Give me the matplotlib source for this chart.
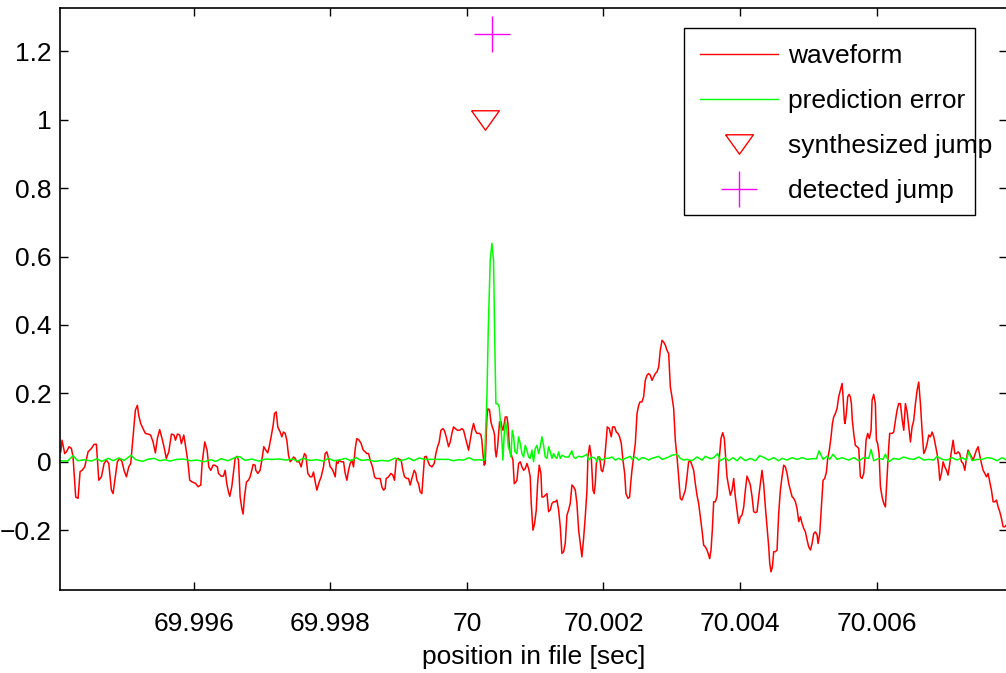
import numpy as np
import matplotlib
matplotlib.use("Agg")
import matplotlib.pyplot as plt
from matplotlib.patches import Rectangle
from matplotlib.lines import Line2D

plt.rcParams["font.family"] = ["Liberation Sans", "DejaVu Sans"]

# time offsets in ms relative to 70 s
wave_t_ms = [
    -5.949, -5.930, -5.891, -5.866, -5.827, -5.793, -5.769, -5.730, -5.695, -5.666,
    -5.637, -5.598, -5.549, -5.500, -5.461, -5.427, -5.392, -5.353, -5.314, -5.280,
    -5.246, -5.207, -5.183, -5.149, -5.120, -5.085, -5.051, -5.022, -4.987, -4.953,
    -4.924, -4.890, -4.856, -4.827, -4.807, -4.778, -4.744, -4.710, -4.671, -4.632,
    -4.597, -4.563, -4.534, -4.500, -4.466, -4.437, -4.403, -4.367, -4.328, -4.289,
    -4.269, -4.240, -4.206, -4.182, -4.147, -4.108, -4.084, -4.060, -4.025, -3.976,
    -3.937, -3.898, -3.879, -3.840, -3.806, -3.781, -3.752, -3.718, -3.694, -3.655,
    -3.639, -3.600, -3.566, -3.541, -3.517, -3.493, -3.473, -3.444, -3.415, -3.395,
    -3.366, -3.346, -3.322, -3.297, -3.278, -3.258, -3.229, -3.200, -3.176, -3.151,
    -3.131, -3.102, -3.092, -3.063, -3.029, -3.004, -2.975, -2.946, -2.917, -2.892,
    -2.868, -2.838, -2.818, -2.794, -2.770, -2.735, -2.711, -2.687, -2.662, -2.638,
    -2.613, -2.589, -2.565, -2.540, -2.516, -2.491, -2.457, -2.428, -2.408, -2.379,
    -2.359, -2.330, -2.296, -2.271, -2.247, -2.222, -2.198, -2.164, -2.135, -2.101,
    -2.076, -2.052, -2.027, -2.003, -1.978, -1.954, -1.930, -1.910, -1.890, -1.871,
    -1.841, -1.807, -1.783, -1.758, -1.734, -1.710, -1.685, -1.661, -1.636, -1.612,
    -1.578, -1.549, -1.519, -1.490, -1.466, -1.441, -1.417, -1.383, -1.353,
    -1.329, -1.295, -1.270, -1.246, -1.222, -1.197, -1.183, -1.148, -1.114, -1.085,
    -1.061, -1.036, -1.012, -0.987, -0.963, -0.938, -0.914, -0.880, -0.856, -0.831,
    -0.807, -0.772, -0.748, -0.733, -0.709, -0.685, -0.660, -0.636, -0.621, -0.596,
    -0.577, -0.548, -0.513, -0.479, -0.455, -0.430, -0.406, -0.381, -0.352, -0.332,
    -0.303, -0.269, -0.245, -0.220, -0.196, -0.171, -0.137, -0.108, -0.074, -0.049,
    -0.025, 0.000, 0.024, 0.048, 0.073, 0.097, 0.122, 0.146, 0.185, 0.205,
    0.219, 0.234, 0.253, 0.268, 0.293, 0.307, 0.332, 0.351, 0.371, 0.390,
    0.405, 0.415, 0.429, 0.449, 0.463, 0.478, 0.498, 0.512, 0.527, 0.547,
    0.561, 0.586, 0.600, 0.625, 0.644, 0.674, 0.693, 0.718, 0.732, 0.757,
    0.781, 0.806, 0.830, 0.854, 0.879, 0.903, 0.927,
    0.942, 0.967, 0.991, 1.015, 1.035, 1.059, 1.084, 1.098, 1.123, 1.147,
    1.172, 1.196, 1.221, 1.245, 1.269, 1.294, 1.318, 1.343, 1.367, 1.391,
    1.416, 1.440, 1.465, 1.489, 1.513, 1.538, 1.562, 1.587, 1.611, 1.636,
    1.660, 1.684, 1.709, 1.733, 1.758, 1.772, 1.797, 1.821, 1.846, 1.865,
    1.880, 1.895, 1.919, 1.943, 1.968, 1.987, 2.012, 2.036, 2.056, 2.085,
    2.114, 2.134, 2.163, 2.188, 2.212, 2.236, 2.261, 2.285, 2.310, 2.329,
    2.359, 2.383, 2.398, 2.417, 2.442, 2.466, 2.491, 2.515, 2.535, 2.563,
    2.588, 2.612, 2.637, 2.661, 2.686, 2.710, 2.735, 2.759, 2.784, 2.808,
    2.832, 2.857, 2.881, 2.906, 2.930, 2.955, 2.979, 3.003, 3.028, 3.052,
    3.077, 3.101, 3.125, 3.150, 3.174, 3.199,
    3.223, 3.247, 3.272, 3.296, 3.321, 3.345, 3.370, 3.394, 3.418, 3.443,
    3.467, 3.492, 3.516, 3.541, 3.555, 3.575, 3.594, 3.614, 3.638, 3.663,
    3.687, 3.702, 3.721, 3.746, 3.770, 3.785, 3.809, 3.834, 3.858, 3.883,
    3.907, 3.931, 3.956, 3.980, 4.005, 4.029, 4.054, 4.078, 4.102, 4.127,
    4.151, 4.176, 4.200, 4.225, 4.249, 4.274, 4.298, 4.322, 4.347, 4.371,
    4.396, 4.420, 4.435, 4.454, 4.474, 4.493, 4.517, 4.542, 4.566, 4.591,
    4.615, 4.640, 4.664, 4.689, 4.713, 4.737, 4.762, 4.786, 4.811, 4.835,
    4.860, 4.884, 4.908, 4.933, 4.957, 4.982, 5.006, 5.031, 5.055, 5.079,
    5.104, 5.128, 5.143, 5.167, 5.191, 5.216, 5.240, 5.265, 5.284, 5.308,
    5.333, 5.353, 5.372, 5.396, 5.421, 5.445, 5.470, 5.495, 5.509, 5.528,
    5.538, 5.557, 5.577, 5.597, 5.616, 5.631, 5.645, 5.665, 5.689, 5.714,
    5.738, 5.763, 5.787, 5.812, 5.831, 5.846, 5.870, 5.894, 5.919, 5.934,
    5.958, 5.982, 5.997, 6.016, 6.036, 6.056, 6.080, 6.105, 6.129, 6.153,
    6.178, 6.192, 6.227, 6.251, 6.276, 6.300, 6.324, 6.349, 6.373, 6.398,
    6.422, 6.447, 6.471, 6.496, 6.520, 6.544, 6.569, 6.593, 6.617, 6.642,
    6.666, 6.691, 6.715, 6.740, 6.764, 6.789, 6.813, 6.838, 6.862, 6.886,
    6.911, 6.925, 6.950, 6.974, 6.999, 7.023, 7.047, 7.072, 7.091, 7.121,
    7.145, 7.169, 7.194, 7.218, 7.243, 7.267, 7.292, 7.316, 7.340, 7.365,
    7.389, 7.414, 7.438, 7.462, 7.487, 7.511, 7.536, 7.560, 7.585, 7.609,
    7.633, 7.658, 7.682, 7.707, 7.731, 7.756, 7.780, 7.804, 7.829, 7.853,
    7.878, 7.902,
]
wave_v = [
    0.029, 0.063, 0.024, 0.029, 0.044, 0.039, 0.014, -0.103, -0.107, -0.029,
    -0.025, -0.015, 0.029, 0.039, 0.051, 0.051, -0.054, -0.044, -0.005, 0.005,
    -0.005, -0.083, -0.093, -0.044, 0.000, 0.010, 0.000, -0.025, -0.044, -0.015,
    -0.005, 0.073, 0.151, 0.165, 0.136, 0.112, 0.097, 0.083, 0.081, 0.078,
    0.058, 0.026, 0.068, 0.094, 0.068, 0.044, 0.010, 0.029, 0.081, 0.078,
    0.063, 0.081, 0.078, 0.053, 0.078, 0.029, -0.005, -0.054, -0.059, -0.063,
    -0.073, -0.068, -0.005, 0.058, 0.034, -0.015, -0.025, -0.010, -0.010, -0.015,
    -0.034, -0.042, -0.042, -0.025, -0.064, -0.088, -0.101, -0.073, -0.025, 0.010,
    0.016, 0.005, -0.102, -0.137, -0.153, -0.102, -0.059, -0.054, -0.044, -0.025,
    -0.008, -0.010, -0.025, -0.034, -0.025, 0.005, 0.044, 0.034, 0.026, 0.048,
    0.073, 0.107, 0.141, 0.146, 0.102, 0.087, 0.073, 0.087, 0.083, 0.063,
    0.019, 0.000, 0.005, 0.014, 0.010, 0.000, 0.000, -0.015, 0.003, 0.024,
    0.019, -0.034, -0.044, -0.044, -0.030, -0.059, -0.083, -0.059, -0.044, -0.015,
    0.024, 0.029, 0.010, -0.015, -0.020, -0.030, -0.044, 0.000, -0.005, 0.005,
    0.000, 0.000, -0.034, -0.054, -0.025, -0.005, 0.005, -0.015, 0.039, 0.068,
    0.063, 0.053, 0.034, 0.029, 0.024, 0.024, 0.005, -0.015, -0.044,
    -0.049, -0.049, -0.049, -0.073, -0.083, -0.078, -0.049, -0.044, -0.034, -0.039,
    -0.054, 0.005, 0.010, 0.007, 0.005, -0.025, -0.044, -0.049, -0.049, -0.068,
    -0.049, -0.025, -0.034, -0.054, -0.064, -0.088, -0.093, -0.025, 0.014, 0.016,
    0.005, -0.010, -0.015, -0.005, 0.024, 0.044, 0.058, 0.092, 0.097, 0.092,
    0.073, 0.044, 0.058, 0.083, 0.102, 0.097, 0.092, 0.092, 0.097, 0.092,
    0.073, 0.053, 0.034, 0.063, 0.092, 0.112, 0.092, 0.083, 0.083, 0.078,
    0.063, 0.024, -0.010, -0.005, 0.131, 0.155, 0.151, 0.117, 0.102, 0.092,
    0.078, 0.034, 0.014, 0.044, 0.078, 0.117, 0.117, 0.102, 0.092, 0.112,
    0.131, 0.131, 0.112, 0.034, 0.024, 0.005, -0.064, -0.059, -0.054, -0.005,
    0.000, -0.015, -0.025, -0.020, -0.005, -0.020, -0.044,
    -0.122, -0.200, -0.181, -0.142, -0.064, -0.010, -0.034, -0.103, -0.103, -0.098,
    -0.093, -0.146, -0.141, -0.122, -0.117, -0.117, -0.112, -0.141, -0.190, -0.268,
    -0.263, -0.239, -0.156, -0.141, -0.122, -0.068, -0.073, -0.083, -0.122, -0.200,
    -0.239, -0.278, -0.224, -0.161, -0.083, 0.014, 0.048, 0.014, -0.083, -0.093,
    -0.064, -0.005, 0.014, 0.014, -0.025, -0.029, -0.005, 0.053, 0.102, 0.097,
    0.073, 0.102, 0.102, 0.087, 0.083, 0.073, 0.053, 0.005, -0.034, -0.093,
    -0.107, -0.103, -0.064, -0.025, 0.014, 0.053, 0.141, 0.165, 0.175, 0.175,
    0.190, 0.238, 0.253, 0.258, 0.253, 0.238, 0.248, 0.258, 0.263, 0.277,
    0.326, 0.355, 0.350, 0.341, 0.326, 0.316, 0.219, 0.190, 0.156, 0.063,
    0.014, -0.044, -0.107, -0.112, -0.098, -0.083,
    -0.044, 0.000, 0.003, -0.010, -0.025, -0.064, -0.098, -0.122, -0.161, -0.200,
    -0.244, -0.249, -0.258, -0.273, -0.283, -0.258, -0.200, -0.117, -0.117, -0.102,
    -0.015, 0.024, 0.068, 0.085, 0.068, 0.024, -0.044, -0.073, -0.098, -0.083,
    -0.049, -0.102, -0.141, -0.180, -0.161, -0.156, -0.132, -0.083, -0.042, -0.054,
    -0.068, -0.102, -0.146, -0.149, -0.146, -0.102, -0.064, -0.025, -0.068, -0.132,
    -0.190, -0.249, -0.297, -0.322, -0.307, -0.263, -0.263, -0.258, -0.151, -0.083,
    -0.044, -0.010, -0.015, -0.034, -0.064, -0.083, -0.102, -0.107, -0.117, -0.137,
    -0.175, -0.161, -0.180, -0.195, -0.205, -0.229, -0.249, -0.258, -0.239, -0.210,
    -0.205, -0.214, -0.239, -0.210, -0.132, -0.054, -0.049, -0.030, 0.010, 0.034,
    0.073, 0.112, 0.131, 0.141, 0.156, 0.190, 0.209, 0.229, 0.190, 0.121,
    0.112, 0.141, 0.190, 0.197, 0.190, 0.170, 0.121, 0.083, 0.048, 0.044,
    0.039, -0.044, -0.049, -0.034, 0.014, 0.063, 0.083, 0.068, 0.092, 0.180,
    0.197, 0.170, 0.063, 0.053, 0.024, -0.073, -0.102, -0.122, -0.132, -0.044,
    0.044, 0.083, 0.083, 0.087, 0.121, 0.151, 0.170, 0.170, 0.126, 0.092,
    0.170, 0.146, 0.102, 0.058, 0.102, 0.121, 0.170, 0.209, 0.233, 0.170,
    0.092, 0.024, 0.034, 0.053, 0.078, 0.073, 0.087, 0.073, 0.048, 0.024,
    -0.015, -0.054, -0.034, 0.000, -0.015, -0.025, -0.039, -0.005, 0.024, 0.063,
    0.024, 0.024, 0.029, 0.024, 0.000, -0.005, -0.025, 0.010, 0.034, 0.024,
    0.014, 0.005, 0.019, 0.034, 0.044, 0.019, -0.005, -0.025, -0.034, -0.044,
    -0.034, -0.059, -0.083, -0.117, -0.117, -0.112, -0.132, -0.146, -0.166, -0.190,
    -0.190, -0.185,
]

err_t_ms = [
    -5.95, -5.85, -5.77, -5.70, -5.60, -5.50, -5.42, -5.35, -5.25, -5.18,
    -5.10, -5.02, -4.92, -4.85, -4.75, -4.68, -4.58, -4.50, -4.42, -4.35,
    -4.25, -4.15, -4.05, -3.95, -3.85, -3.75, -3.68, -3.60, -3.50, -3.40,
    -3.33, -3.25, -3.15, -3.05, -2.95, -2.85, -2.75, -2.65, -2.55, -2.48,
    -2.40, -2.30, -2.20, -2.10, -2.03, -1.95, -1.85, -1.78, -1.70, -1.62,
    -1.55, -1.45, -1.35, -1.25, -1.15, -1.05, -0.98, -0.90, -0.85, -0.78,
    -0.70, -0.62, -0.55, -0.45, -0.35, -0.27, -0.20, -0.12, -0.05, 0.03,
    0.10, 0.18, 0.24, 0.258, 0.293, 0.312, 0.341, 0.366, 0.390, 0.405,
    0.424, 0.449, 0.473, 0.493, 0.512, 0.527, 0.547, 0.566, 0.586, 0.605,
    0.625, 0.644, 0.664, 0.684, 0.703, 0.732, 0.757, 0.781, 0.806, 0.830,
    0.854, 0.879, 0.903, 0.927, 0.952, 0.976, 1.001, 1.025, 1.050, 1.074,
    1.098, 1.123, 1.147, 1.172, 1.196, 1.221, 1.245, 1.269, 1.294, 1.318,
    1.343, 1.367, 1.391, 1.440, 1.489, 1.538, 1.562, 1.587, 1.636, 1.684,
    1.733, 1.758, 1.782, 1.831, 1.880, 1.904, 1.929, 1.977, 2.026, 2.075,
    2.124, 2.173, 2.222, 2.271, 2.320, 2.393, 2.417, 2.466, 2.515, 2.564,
    2.613, 2.661, 2.710, 2.808, 2.857, 2.906, 2.955, 3.003, 3.077, 3.125,
    3.174, 3.223, 3.296, 3.370, 3.443, 3.492, 3.565, 3.614, 3.672, 3.711,
    3.785, 3.834, 3.897, 3.956, 4.005, 4.078, 4.151, 4.225, 4.288, 4.356,
    4.420, 4.493, 4.566, 4.615, 4.689, 4.762, 4.835, 4.908, 4.982, 5.055,
    5.118, 5.157, 5.216, 5.274, 5.313, 5.362, 5.421, 5.495, 5.518, 5.592,
    5.665, 5.743, 5.812, 5.885, 5.919, 5.958, 6.031, 6.095, 6.129, 6.178,
    6.251, 6.324, 6.398, 6.471, 6.544, 6.617, 6.691, 6.764, 6.838, 6.886,
    6.960, 7.033, 7.106, 7.179, 7.252, 7.316, 7.350, 7.399, 7.472, 7.545,
    7.619, 7.692, 7.765, 7.838, 7.902,
]
err_v = [
    0.003, 0.002, 0.018, 0.003, 0.006, 0.002, 0.009, 0.001, 0.010, 0.003,
    0.011, 0.004, 0.019, 0.006, 0.001, 0.007, 0.010, 0.003, 0.006, 0.002,
    0.007, 0.008, 0.003, 0.005, 0.000, 0.006, 0.001, 0.009, 0.003, 0.012,
    0.015, 0.004, 0.008, 0.002, 0.008, 0.007, 0.008, 0.005, 0.008, 0.002,
    0.010, 0.004, 0.006, 0.002, 0.010, 0.003, 0.006, 0.010, 0.003, 0.012,
    0.004, 0.006, 0.001, 0.004, 0.002, 0.011, 0.003, 0.007, 0.011, 0.003,
    0.011, 0.007, 0.007, 0.007, 0.007, 0.007, 0.003, 0.006, 0.005, 0.012,
    0.005, 0.006, 0.004, 0.005, 0.190, 0.384, 0.589, 0.639, 0.589, 0.384,
    0.170, 0.170, 0.160, 0.112, 0.063, 0.005, 0.083, 0.117, 0.092, 0.044,
    0.034, 0.014, 0.092, 0.073, 0.029, 0.024, 0.073, 0.053, 0.024, 0.014,
    0.048, 0.034, 0.014, 0.010, 0.034, 0.000, 0.039, 0.048, 0.024, 0.044,
    0.073, 0.048, 0.014, 0.010, 0.044, 0.029, 0.010, 0.024, 0.014, 0.010,
    0.029, 0.010, 0.019, 0.014, 0.014, 0.032, 0.014, 0.010, 0.016, 0.014,
    0.019, 0.022, 0.005, 0.014, 0.010, 0.000, 0.014, 0.005, 0.010, 0.010,
    0.014, 0.005, 0.010, 0.005, 0.010, 0.016, 0.007, 0.014, 0.005, 0.012,
    0.010, 0.005, 0.010, 0.016, 0.007, 0.010, 0.014, 0.019, 0.022, 0.010,
    0.005, 0.007, 0.003, 0.014, 0.005, 0.016, 0.009, 0.012, 0.024, 0.003,
    0.012, 0.003, 0.012, 0.003, 0.014, 0.003, 0.010, 0.003, 0.018, 0.012,
    0.005, 0.012, 0.003, 0.010, 0.005, 0.012, 0.007, 0.012, 0.007, 0.009,
    0.009, 0.032, 0.007, 0.016, 0.007, 0.022, 0.007, 0.012, 0.010, 0.005,
    0.012, 0.003, 0.012, 0.010, 0.036, 0.003, 0.010, 0.007, 0.022, 0.000,
    0.010, 0.007, 0.014, 0.009, 0.007, 0.014, 0.005, 0.007, 0.005, 0.016,
    0.007, 0.005, 0.012, 0.005, 0.012, 0.005, 0.029, 0.003, 0.007, 0.007,
    0.012, 0.010, 0.003, 0.012, 0.005,
]

synth_jump_ms = 0.268
synth_jump_v = 1.0
detect_jump_ms = 0.366
detect_jump_v = 1.25

x_ticks = [69.996, 69.998, 70.0, 70.002, 70.004, 70.006]
x_tick_labels = ["69.996", "69.998", "70", "70.002", "70.004", "70.006"]
y_ticks = [-0.2, 0.0, 0.2, 0.4, 0.6, 0.8, 1.0, 1.2]
y_tick_labels = ["\u22120.2", "0", "0.2", "0.4", "0.6", "0.8", "1", "1.2"]

W, H = 1006, 673
fig = plt.figure(figsize=(W / 100, H / 100), dpi=100)
ax = fig.add_axes([60 / W, 83 / H, 947 / W, 582 / H])

wave_x = 70 + np.array(wave_t_ms) / 1000
err_x = 70 + np.array(err_t_ms) / 1000

tri = [(-1, 0.7), (1, 0.7), (0, -0.7), (-1, 0.7)]

ax.plot(wave_x, wave_v, color="#ff0000", lw=1.1)
ax.plot(err_x, err_v, color="#00ff00", lw=1.1)
ax.plot([70 + synth_jump_ms / 1000], [synth_jump_v], linestyle="none",
        marker=tri, ms=20, mfc="none", mec="#ff0000", mew=1.0)
ax.plot([70 + detect_jump_ms / 1000], [detect_jump_v], linestyle="none",
        marker="+", ms=26, mec="#ff00ff", mew=1.0)

ax.set_xlim(69.99404, 70.00791)
ax.set_ylim(-0.375, 1.327)
ax.set_xticks(x_ticks)
ax.set_xticklabels(x_tick_labels)
ax.set_yticks(y_ticks)
ax.set_yticklabels(y_tick_labels)
ax.tick_params(direction="in", length=6, width=1.0, top=True, right=True,
               labelsize=19)
ax.tick_params(axis="x", pad=16)
ax.tick_params(axis="y", pad=6)
for s in ax.spines.values():
    s.set_linewidth(1.2)
ax.set_xlabel("position in file [sec]", fontsize=19, labelpad=6)

# legend box drawn separately so the text can overflow it like the original
fig.patches.append(Rectangle((684 / W, 1 - 215 / H), 291 / W, 187 / H,
                             transform=fig.transFigure, facecolor="white",
                             edgecolor="black", lw=1.0, zorder=5))
handles = [
    Line2D([], [], color="#ff0000", lw=1.0),
    Line2D([], [], color="#00ff00", lw=1.0),
    Line2D([], [], linestyle="none", marker=tri, ms=20, mfc="none",
           mec="#ff0000", mew=1.0),
    Line2D([], [], linestyle="none", marker="+", ms=26, mec="#ff00ff", mew=1.0),
]
labels = ["waveform", "prediction error", "synthesized jump", "detected jump"]
leg = fig.legend(handles, labels, loc="upper left",
                 bbox_to_anchor=(700 / W, 1 - 44 / H), frameon=False,
                 fontsize=19, handlelength=2.95, handletextpad=0.38,
                 labelspacing=0.80, borderpad=0, borderaxespad=0)
leg.set_zorder(6)

fig.savefig("out.png", dpi=100)
